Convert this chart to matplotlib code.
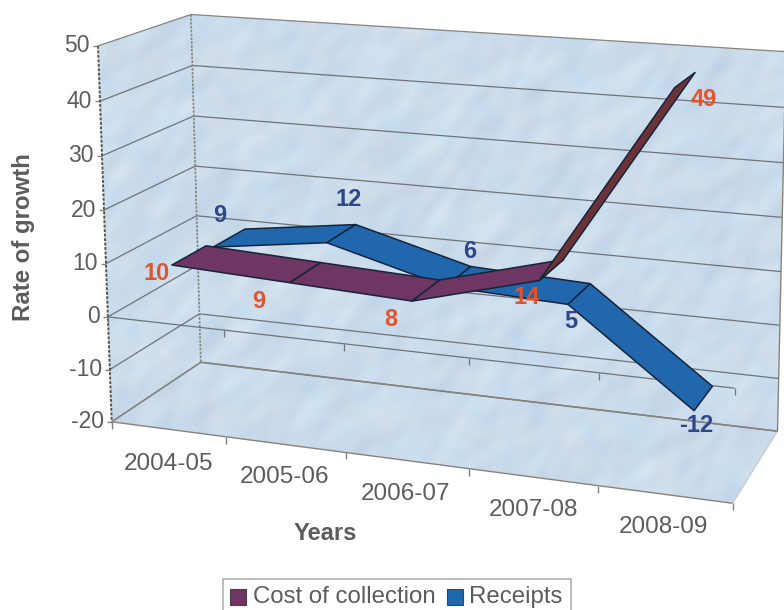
import numpy as np
import matplotlib
matplotlib.use("Agg")
import matplotlib.pyplot as plt
from matplotlib.patches import Polygon, Rectangle

plt.rcParams['font.family'] = ['Liberation Sans', 'DejaVu Sans']

years = ['2004-05', '2005-06', '2006-07', '2007-08', '2008-09']
cost = [10, 9, 8, 14, 49]
receipts = [9, 12, 6, 5, -12]
y_ticks = [50, 40, 30, 20, 10, 0, -10, -20]
series_names = ['Cost of collection', 'Receipts']

# camera fit: (category, depth, value) -> pixel
scene = [(0,0,50),(0,0,-20),(0,0,0),(0,1,50),(0,1,-20),(0,1,0),(5,1,50),(5,1,-20),(5,1,0),
         (5,0,-20),(5,0,0),(1,0,-20),(2,0,-20),(4,0,-20)]
image = [(97,46),(113,421),(108,318),(192,14),(200,362),(198,265),(785,52),(777,432),(781,325),
         (732,502),(736,388),(226,437),(345,453),(598,486)]
A, b = [], []
for (u, d, v), (x, y) in zip(scene, image):
    A.append([u, d, v, 1, 0, 0, 0, 0, -x*u, -x*d, -x*v]); b.append(x)
    A.append([0, 0, 0, 0, u, d, v, 1, -y*u, -y*d, -y*v]); b.append(y)
cam = np.append(np.linalg.lstsq(np.array(A, float), np.array(b, float), rcond=None)[0], 1).reshape(3, 4)

def pr(u, d, v):
    w = cam @ np.array([u, d, v, 1.0])
    return w[0]/w[2], w[1]/w[2]

fig = plt.figure(figsize=(7.84, 6.10), dpi=100)
ax = fig.add_axes([0, 0, 1, 1])
ax.set_xlim(0, 784); ax.set_ylim(610, 0); ax.axis('off')

# mottled paper-like wall texture (deterministic)
yy, xx = np.mgrid[0:610, 0:784]
n = np.zeros(xx.shape); m = np.zeros(xx.shape)
waves = [(.061,.037,.3,1),(.033,.083,1.7,1),(.097,.059,2.9,.9),(.121,.143,.9,.8),
         (.173,.087,4.1,.7),(.077,.197,5.3,.7),(.231,.179,1.1,.5),(.29,.13,3.3,.4),(.14,.27,2.2,.4)]
for i, (fx, fy, ph, amp) in enumerate(waves):
    warp = 2.2*np.sin(.023*yy - .017*xx + ph) + 1.6*np.sin(.041*xx + .029*yy + 2*ph)
    n += amp*np.sin(fx*xx + fy*yy + ph + warp)
    m += amp*np.sin(fy*xx - fx*yy + 2.3*ph + warp)
n /= np.abs(n).max(); m /= np.abs(m).max()
tex = np.stack([203 + 10*n + 8*m, 220 + 10*n, 236 + 7*n - 3*m], axis=-1).clip(0, 255)/255

walls = [
    [pr(0,0,50), pr(0,1,50), pr(0,1,-20), pr(0,0,-20)],
    [pr(0,1,50), pr(5,1,50), pr(5,1,-20), pr(0,1,-20)],
    [pr(0,0,-20), pr(0,1,-20), pr(5,1,-20), pr(5,0,-20)],
]
for w in walls:
    im = ax.imshow(tex, extent=(0, 784, 610, 0), zorder=1, aspect='auto', interpolation='bilinear')
    im.set_clip_path(Polygon(w, closed=True, transform=ax.transData))
ax.set_xlim(0, 784); ax.set_ylim(610, 0)

GRID = '#6f7378'
EDGE = '#85847c'
TXT = '#5c5c5c'
def seg(p, q, **kw):
    ax.plot([p[0], q[0]], [p[1], q[1]], solid_capstyle='butt', zorder=kw.pop('zorder', 2), **kw)

for v in y_ticks:
    seg(pr(0,0,v), pr(0,1,v), color=GRID if v != 50 else EDGE, lw=.9)
    seg(pr(0,1,v), pr(5,1,v), color=GRID if v != 50 else EDGE, lw=.9)
    x, y = pr(0,0,v)
    seg((x-5, y), (x, y), color=EDGE, lw=1)
    ax.text(x-8, y, str(v), ha='right', va='center', fontsize=16.5, color=TXT, zorder=6)

seg(pr(0,0,50), pr(0,0,-20), color='#55554f', lw=1.4, ls=(0, (1.5, .8)))
seg(pr(0,1,50), pr(0,1,-20), color=EDGE, lw=1.2, ls=(0, (1.5, .8)))
seg(pr(0,0,-20), pr(0,1,-20), color=EDGE, lw=1)
seg(pr(5,0,-20), pr(5,1,-20), color='#c8ccd0', lw=1)
seg(pr(5,1,50), pr(5,1,-20), color=EDGE, lw=1)
seg(pr(0,1,-20), pr(5,1,-20), color=EDGE, lw=1.2)
seg(pr(0,0,-20), pr(5,0,-20), color=EDGE, lw=1)
seg(pr(0,0,0), pr(5,0,0), color=GRID, lw=.9, zorder=2)
for u in range(6):
    x, y = pr(u,0,-20)
    seg((x, y), (x, y+7), color=EDGE, lw=1)
    x, y = pr(u,0,0)
    seg((x, y), (x, y+7), color=GRID, lw=.9)

def ribbon(vals, d0, d1, colors, z):
    for i in range(len(vals)-1):
        a, c = i+.5, i+1.5
        poly = [pr(a,d0,vals[i]), pr(a,d1,vals[i]), pr(c,d1,vals[i+1]), pr(c,d0,vals[i+1])]
        ax.add_patch(Polygon(poly, closed=True, fc=colors[i], ec='#16243a', lw=1.1, zorder=z, joinstyle='round'))

BLUE = '#2167ae'
PURP = '#6f3563'
ribbon(receipts, .55, .93, [BLUE]*4, 3)
ribbon(cost, .09, .47, [PURP, PURP, PURP, '#6b3338'], 4)

# data labels
RED, NAVY = '#e2552c', '#2f4688'
cost_lab = [(157,273), (259,301), (391,319), (527,298), (704,100)]
rec_lab = [(220,215), (349,199), (470,251), (571,322), (696,426)]
for v, (x, y) in zip(cost, cost_lab):
    ax.text(x, y, str(v), color=RED, fontsize=17, fontweight='bold', ha='center', va='center', zorder=7)
for v, (x, y) in zip(receipts, rec_lab):
    ax.text(x, y, str(v), color=NAVY, fontsize=17, fontweight='bold', ha='center', va='center', zorder=7)

# category labels and titles
cat_lab = [(169,464), (285,477), (406,494), (533,510), (663,527)]
for t, (x, y) in zip(years, cat_lab):
    ax.text(x, y, t, ha='center', va='center', fontsize=17.5, color=TXT, zorder=6)
ax.text(325, 534, 'Years', ha='center', va='center', fontsize=17, fontweight='bold', color=TXT)
ax.text(24, 237, 'Rate of growth', ha='center', va='center', rotation=90, fontsize=17.3, fontweight='bold', color=TXT)

# legend box runs off the bottom edge, as in the reference
ax.add_patch(Rectangle((223, 579), 348, 45, fc='white', ec='#a9a9a6', lw=1.1, zorder=5))
ax.add_patch(Rectangle((230, 589), 16, 16, fc=PURP, ec='#444', lw=.8, zorder=6))
ax.add_patch(Rectangle((447, 589), 16, 16, fc=BLUE, ec='#444', lw=.8, zorder=6))
ax.text(253, 597, series_names[0], ha='left', va='center', fontsize=17.3, color=TXT, zorder=6)
ax.text(469, 597, series_names[1], ha='left', va='center', fontsize=17.3, color=TXT, zorder=6)
fig.savefig('out.png', dpi=100, facecolor='white')
